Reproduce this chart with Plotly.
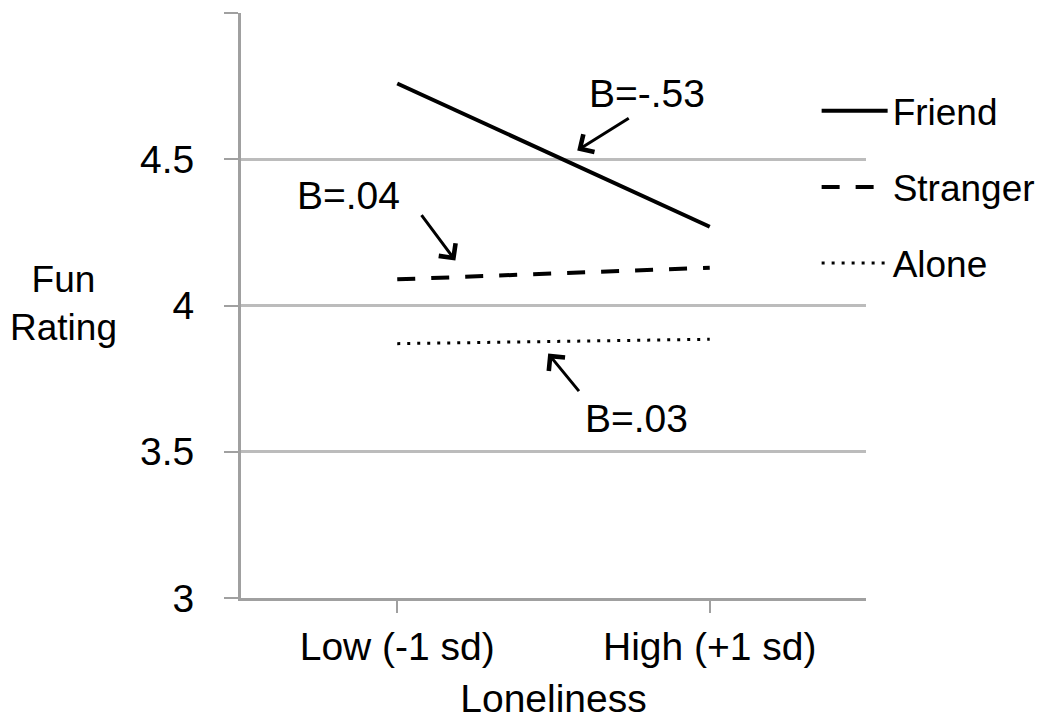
import plotly.graph_objects as go

# data
categories = ["Low (-1 sd)", "High (+1 sd)"]
friend = [4.76, 4.27]
stranger = [4.09, 4.13]
alone = [3.87, 3.885]

y_ticks = [3, 3.5, 4, 4.5, 5]
y_tick_text = ["3", "3.5", "4", "4.5", "5"]

# slope labels: (text, label x, label y, arrow tip x, arrow tip y, ax, ay)
slope_notes = [
    ("B=-.53", 0.80, 4.726, 0.576, 4.531, 53, -33),
    ("B=.04", -0.157, 4.377, 0.186, 4.154, -35, -47),
    ("B=.03", 0.765, 3.613, 0.483, 3.836, 32, 39),
]

FONT = "Liberation Sans, Arial, sans-serif"
FS = 39
GRID = "#bcbcbc"
AXIS = "#a0a0a0"

fig = go.Figure()
xs = [0, 1]
fig.add_trace(go.Scatter(x=xs, y=friend, mode="lines", name="Friend", legendgroup="a",
                         line=dict(color="black", width=4)))
fig.add_trace(go.Scatter(x=xs, y=stranger, mode="lines", name="Stranger", legendgroup="b",
                         line=dict(color="black", width=4, dash="18px,16px")))
fig.add_trace(go.Scatter(x=xs, y=alone, mode="lines", name="Alone", legendgroup="c",
                         line=dict(color="black", width=3, dash="3px,7px")))

for txt, tx, ty, px_, py_, ax, ay in slope_notes:
    fig.add_annotation(x=tx, y=ty, text=txt, showarrow=False,
                       font=dict(size=FS, color="black", family=FONT))
    fig.add_annotation(x=px_, y=py_, text="", showarrow=True, ax=ax, ay=ay,
                       arrowhead=4, arrowsize=1.35, arrowwidth=3, arrowcolor="black")

# horizontal y-axis title
fig.add_annotation(xref="paper", yref="paper", x=-0.284, y=0.504, xanchor="center",
                   yanchor="middle", text="Fun<br>Rating", showarrow=False,
                   font=dict(size=37, color="black", family=FONT))

fig.update_xaxes(
    range=[-0.5, 1.5], tickmode="array", tickvals=xs, ticktext=categories,
    showgrid=False, showline=True, linecolor=AXIS, linewidth=3, automargin=False,
    ticks="outside", ticklen=12, tickwidth=2, tickcolor=AXIS,
    tickfont=dict(size=FS, color="black", family=FONT), zeroline=False,
    title=dict(text="Loneliness", font=dict(size=FS, color="black", family=FONT), standoff=26),
)
fig.update_yaxes(
    range=[3, 5.001], tickmode="array", tickvals=y_ticks, ticktext=y_tick_text,
    showgrid=True, gridcolor=GRID, gridwidth=3, showline=True, linecolor=AXIS, linewidth=3,
    ticks="outside", ticklen=14, tickwidth=2, tickcolor=AXIS, ticklabelstandoff=22,
    tickfont=dict(size=FS, color="black", family=FONT), zeroline=False, automargin=False,
)

fig.update_layout(
    width=1034, height=712,
    margin=dict(l=233, r=176, t=5, b=122, autoexpand=False),
    plot_bgcolor="white", paper_bgcolor="white",
    showlegend=True,
    legend=dict(x=0.921, y=0.885, xanchor="left", yanchor="top", itemwidth=66,
                tracegroupgap=25, font=dict(size=37, color="black", family=FONT),
                bgcolor="rgba(0,0,0,0)"),
)

fig.write_html("out.html")
